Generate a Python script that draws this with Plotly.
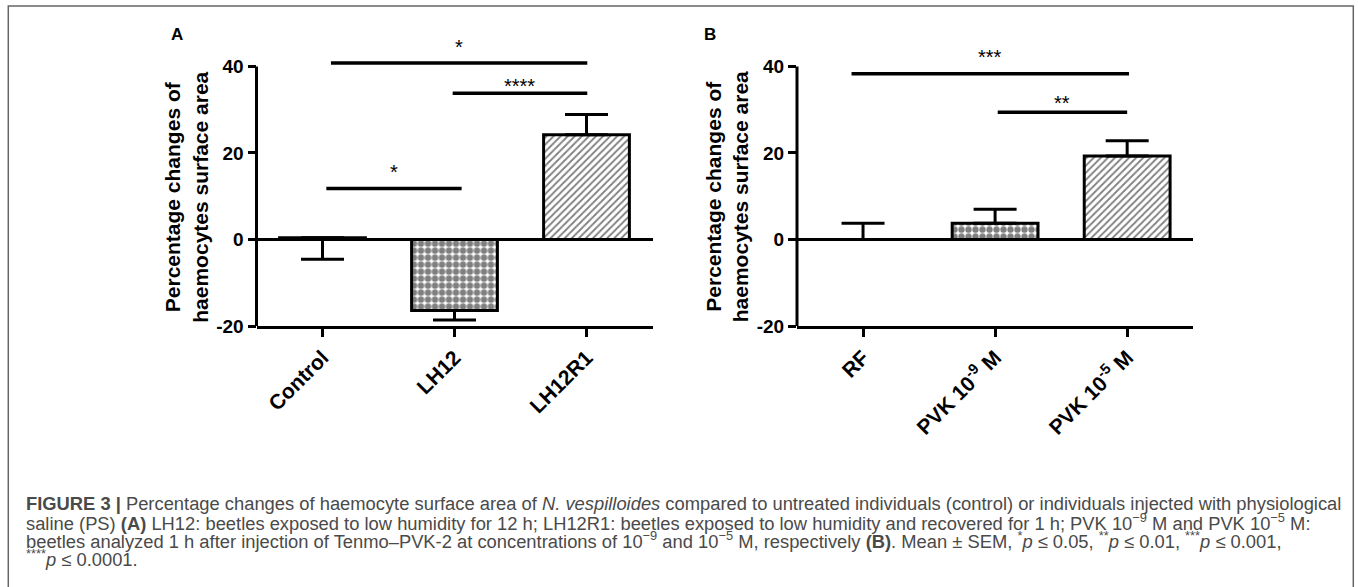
import plotly.graph_objects as go

W, H = 1358, 587

# ---------------- data ----------------
cats_a = ["Control", "LH12", "LH12R1"]
means_a = [0.43, -16.4, 24.2]
err_up_a = [0.0, 0.0, 4.7]
err_down_a = [4.98, 2.2, 0.0]

cats_b = ["RF", "PVK 10<sup>-9</sup> M", "PVK 10<sup>-5</sup> M"]
means_b = [0.0, 3.75, 19.3]
err_up_b = [3.75, 3.25, 3.5]
err_down_b = [0.0, 0.0, 0.0]

patterns = ["", ".", "/"]

sig_a_x0 = [0.064, 0.986, 0.029]
sig_a_x1 = [2.006, 2.006, 1.054]
sig_a_y = [40.8, 33.8, 11.8]
sig_a_text = ["*", "****", "*"]
sig_a_text_y = [45.6, 36.7, 16.7]

sig_b_x0 = [-0.087, 1.02]
sig_b_x1 = [2.014, 2.0]
sig_b_y = [38.3, 29.4]
sig_b_text = ["***", "**"]
sig_b_text_y = [43.3, 32.8]

y_ticks = [-20, 0, 20, 40]
y_title = "Percentage changes of<br>haemocytes surface area"

caption_lines = [
    "<b>FIGURE 3 |</b> Percentage changes of haemocyte surface area of <i>N. vespilloides</i> compared to untreated individuals (control) or individuals injected with physiological",
    "saline (PS) <b>(A)</b> LH12: beetles exposed to low humidity for 12 h; LH12R1: beetles exposed to low humidity and recovered for 1 h; PVK 10<sup>\u22129</sup> M and PVK 10<sup>\u22125</sup> M:",
    "beetles analyzed 1 h after injection of Tenmo\u2013PVK-2 at concentrations of 10<sup>\u22129</sup> and 10<sup>\u22125</sup> M, respectively <b>(B)</b>. Mean \u00b1 SEM, <sup>*</sup><i>p</i> \u2264 0.05, <sup>**</sup><i>p</i> \u2264 0.01, <sup>***</sup><i>p</i> \u2264 0.001,",
    "<sup>****</sup><i>p</i> \u2264 0.0001.",
]
caption_y_px = [513, 531.5, 550, 568.5]

# ---------------- layout helpers ----------------
FONT = "Liberation Sans, Arial, sans-serif"
ydom = [1 - 332.3 / H, 1 - 23.6 / H]
xdom_a = [256.5 / W, 652.5 / W]
xdom_b = [797.0 / W, 1193.2 / W]

fig = go.Figure()


def add_panel(cats, means, up, down, xa, ya):
    xs = list(range(len(cats)))
    fig.add_trace(go.Bar(
        x=xs, y=means, width=0.65, xaxis=xa, yaxis=ya,
        marker=dict(color="white", line=dict(color="black", width=3),
                    pattern=dict(shape=patterns, fgcolor="black", bgcolor="white",
                                 size=[6, 7, 5], solidity=[0.2, 0.66, 0.36])),
        error_y=dict(type="data", symmetric=False, array=up, arrayminus=down,
                     color="black", thickness=3, width=21.5),
        showlegend=False, hoverinfo="skip",
    ))


def add_sig(x0s, x1s, ys, texts, tys, xa, ya):
    for x0, x1, yv, t, ty in zip(x0s, x1s, ys, texts, tys):
        fig.add_trace(go.Scatter(x=[x0, x1], y=[yv, yv], mode="lines", xaxis=xa, yaxis=ya,
                                 line=dict(color="black", width=3.5),
                                 showlegend=False, hoverinfo="skip"))
        fig.add_annotation(x=(x0 + x1) / 2, y=ty, xref=xa, yref=ya, text=t,
                           showarrow=False, yshift=-5,
                           font=dict(family=FONT, size=20, color="black"))


add_panel(cats_a, means_a, err_up_a, err_down_a, "x", "y")
add_panel(cats_b, means_b, err_up_b, err_down_b, "x2", "y2")
add_sig(sig_a_x0, sig_a_x1, sig_a_y, sig_a_text, sig_a_text_y, "x", "y")
add_sig(sig_b_x0, sig_b_x1, sig_b_y, sig_b_text, sig_b_text_y, "x2", "y2")

xaxis_common = dict(range=[-0.5, 2.5], showgrid=False, zeroline=False, showline=True,
                    linecolor="black", linewidth=3, ticks="outside", ticklen=8,
                    tickwidth=3, tickcolor="black", tickangle=-45,
                    tickfont=dict(family=FONT, size=21, color="black", weight="bold"),
                    tickvals=[0, 1, 2], fixedrange=True)
yaxis_common = dict(range=[-20, 50], domain=ydom, showgrid=False, zeroline=True,
                    zerolinecolor="black", zerolinewidth=3, showline=False,
                    ticks="outside", ticklen=8, tickwidth=3, tickcolor="black",
                    tickvals=y_ticks, ticktext=[str(v) for v in y_ticks],
                    tickfont=dict(family=FONT, size=19, color="black", weight="bold"),
                    fixedrange=True)

fig.update_layout(
    width=W, height=H, margin=dict(l=0, r=0, t=0, b=0),
    paper_bgcolor="white", plot_bgcolor="white",
    xaxis=dict(xaxis_common, domain=xdom_a, anchor="y", ticktext=cats_a),
    yaxis=dict(yaxis_common, anchor="x"),
    xaxis2=dict(xaxis_common, domain=xdom_b, anchor="y2", ticktext=cats_b),
    yaxis2=dict(yaxis_common, anchor="x2"),
)

# y-axis lines from -20 to 40
for xa, ya in (("x", "y"), ("x2", "y2")):
    fig.add_shape(type="line", xref=f"{xa} domain", yref=ya, x0=0, x1=0,
                  y0=y_ticks[0], y1=y_ticks[-1], line=dict(color="black", width=3))

# y-axis titles
for xc in (186.5 / W, 727.0 / W):
    fig.add_annotation(x=xc, y=1 - 201 / H, xref="paper", yref="paper", text=y_title,
                       textangle=-90, showarrow=False, xanchor="center", yanchor="middle",
                       font=dict(family=FONT, size=21, color="black", weight="bold"))

# panel letters
for letter, xp in (("A", 176.7), ("B", 710.0)):
    fig.add_annotation(x=xp / W, y=1 - 35.5 / H, xref="paper", yref="paper", text=letter,
                       showarrow=False, xanchor="center", yanchor="middle",
                       font=dict(family=FONT, size=17, color="black", weight="bold"))

# caption
for line, ypx in zip(caption_lines, caption_y_px):
    fig.add_annotation(x=24 / W, y=1 - ypx / H, xref="paper", yref="paper", text=line,
                       showarrow=False, xanchor="left", yanchor="middle", align="left",
                       font=dict(family=FONT, size=18.35, color="#4a4a4a"))

# frame
fig.add_shape(type="rect", xref="paper", yref="paper", x0=8.3 / W, x1=1353.3 / W,
              y0=-0.2, y1=1 - 6 / H, line=dict(color="#666666", width=1.5),
              fillcolor="rgba(0,0,0,0)", layer="above")

fig.write_html("out.html", config={"displayModeBar": False},
               post_script="document.body.style.margin='0px';document.body.style.overflow='hidden';")
